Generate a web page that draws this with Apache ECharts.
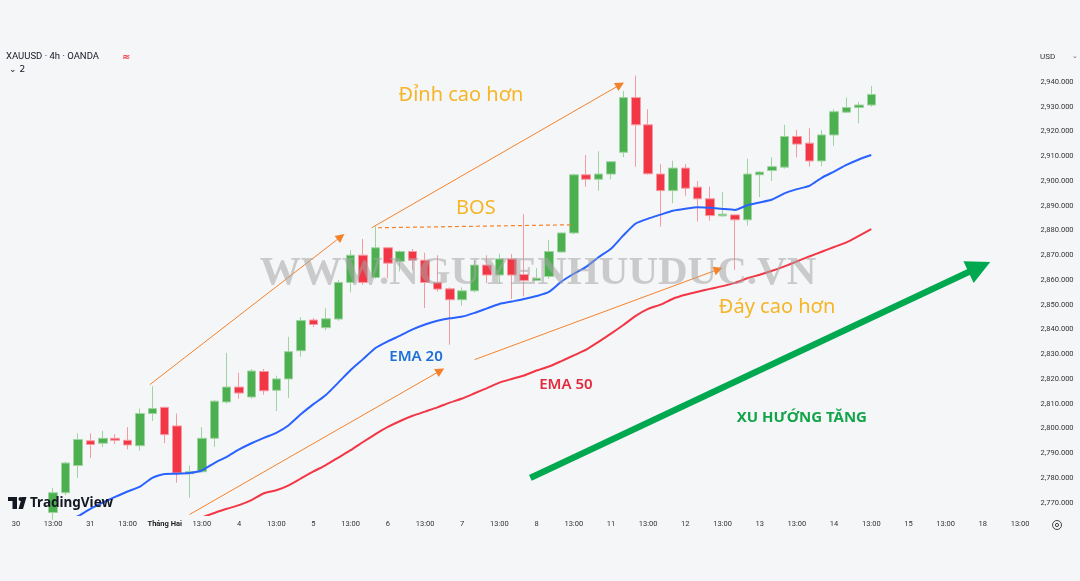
<!DOCTYPE html>
<html>
<head>
<meta charset="utf-8">
<script src="https://cdn.jsdelivr.net/npm/echarts@6.0.0/dist/echarts.min.js"></script>
<style>
html,body{margin:0;padding:0;background:#f5f6f8;}
#c{width:1080px;height:581px;}
</style>
</head>
<body>
<div id="c"></div>
<script>
// ---- tick labels of the time axis (one label every 3 candle slots, 4h candles) ----
const tickLabels = ['30','13:00','31','13:00','Tháng Hai','13:00','4','13:00','5','13:00','6','13:00','7','13:00','8','13:00','11','13:00','12','13:00','13','13:00','14','13:00','15','13:00','18','13:00'];
const slotsPerLabel = 3;
const totalSlots = 83;
const firstCandleSlot = 3;

// ---- XAUUSD 4h OHLC ----
const opens  = [2766,2774,2785,2795,2794,2796,2795.2,2793,2806,2808.5,2801,2781.7,2782.5,2796,2810.7,2816.7,2812.7,2823,2815.4,2820,2831.4,2843.8,2840.7,2844.2,2859,2870,2861,2873,2867.5,2871.5,2868,2859,2856.4,2852,2855.6,2866,2862,2868.5,2862.2,2859.8,2861.4,2871.3,2879,2902.5,2900.7,2902.8,2911.6,2933.7,2922.7,2902.8,2896.1,2905.2,2897.5,2892.8,2885.9,2886.3,2884.3,2902.5,2904.2,2905.6,2918,2915.3,2908.1,2918.6,2927.8,2929.7,2930.7];
const closes = [2774,2786,2795.5,2793.5,2796,2795.2,2793.3,2806,2808,2797.5,2782,2782.5,2796,2811,2816.7,2814.3,2823.2,2815.2,2820,2831,2843.6,2842,2844.3,2859,2870,2859,2873,2866.8,2871.5,2868,2859,2856.3,2852,2855.6,2866,2862,2868.5,2862,2859.8,2860.7,2871.5,2879,2902.5,2900.7,2902.8,2907.8,2933.7,2922.7,2902.9,2896.1,2905.2,2897.1,2892.8,2886,2886.6,2884.3,2902.8,2903.6,2905.8,2918,2914.9,2908.1,2918.6,2928,2929.7,2930.7,2935];
const lows   = [2763,2773,2780,2788,2792.5,2793.7,2791.5,2791,2803,2794,2778,2772,2782,2792.5,2810,2812,2812,2813.6,2807,2812.3,2829,2841,2839.6,2843.5,2855,2858,2860.5,2860.7,2863.4,2864,2848.6,2855.3,2833.8,2849.6,2855,2858.7,2858.7,2852.3,2853.3,2859.5,2860.5,2871,2878.5,2897.7,2896,2900.7,2909.6,2905.8,2902.5,2881.6,2891,2894,2883.6,2883.9,2885.5,2864,2882,2893.5,2900,2905,2909.5,2905.8,2906,2914.2,2927.5,2923.3,2930];
const highs  = [2776,2786.5,2798,2798,2799,2797.7,2800.5,2808,2817,2808.8,2806,2785,2800.5,2811.5,2830.5,2822.5,2824,2824,2821.3,2837,2845,2844.6,2848.6,2860,2872,2876.6,2881.6,2873.3,2872,2872.5,2871,2870,2857,2857,2868,2870,2870.6,2870.5,2886.6,2864.8,2876.2,2879.3,2903,2910.5,2912,2908,2936.4,2942.6,2929,2906.8,2908.2,2906.8,2900,2897.7,2895.5,2886.5,2909,2904,2909.6,2922.7,2920.6,2921.3,2920.5,2929,2933.7,2932,2938.4];

// ---- EMA lines (EMA 20 from slot 3, EMA 50 from slot 13) ----
const ema20 = [2759,2762,2764.5,2767.5,2770,2772.3,2774.5,2776.5,2780,2781.6,2781.7,2782,2783,2786,2788.5,2791.5,2794,2796.2,2798.2,2801.3,2805.8,2809.8,2813.5,2818.5,2823.6,2828,2832.5,2835.2,2837.5,2840,2842,2843.5,2844.5,2845.2,2846.7,2848.5,2850.3,2851.3,2852.3,2853.5,2855.2,2859.3,2862.5,2865.3,2869.2,2872.6,2878,2882.8,2884.8,2886.4,2888,2888.8,2889.4,2889.2,2888.7,2888.3,2890.2,2891.3,2892.5,2895,2896.7,2898,2901.3,2903.8,2906.5,2908.7,2910.5];
const ema50Start = 13;
const ema50 = [2760,2762,2764,2765.8,2767.5,2769,2771,2773.8,2775,2777,2779.8,2782.6,2785.2,2788.2,2791.2,2794.5,2797.7,2800.6,2803,2805.1,2806.8,2808.5,2810.4,2812.1,2814.2,2816.3,2818.5,2820,2821.4,2823.4,2825,2827.2,2829.5,2831.8,2835,2838.3,2841.8,2845.5,2848.3,2850,2852.4,2854,2855.2,2856.4,2857.5,2858.8,2860.7,2862.1,2863.7,2865.5,2867.5,2869.5,2871.4,2873.3,2875.2,2877.8,2880.5];

// ---- price axis ----
const priceMin = 2765, priceMax = 2955, priceStep = 5, labelStep = 10, lastPriceLabel = 2940;

// ---- annotations in (slot, price) coordinates ----
const orangeArrows = [
  {from:[10.8,2817.7], to:[26.5,2878.6]},
  {from:[28.7,2881.1], to:[49.05,2939.8]},
  {from:[14.0,2765.2], to:[34.55,2824.2]},
  {from:[37.0,2827.8], to:[57.0,2864.9]}
];
const bosLine = {from:[29.2,2881.1], to:[44.85,2882.3]};
const trendArrow = {from:[41.5,2780.0], to:[78.6,2867.3]};
const notes = [
  {text:'Đỉnh cao hơn', at:[35.9,2934.8], kind:'gold'},
  {text:'BOS', at:[37.1,2889.1], kind:'gold'},
  {text:'Đáy cao hơn', at:[61.4,2848.8], kind:'gold'},
  {text:'EMA 20', at:[32.27,2829.0], kind:'blue'},
  {text:'EMA 50', at:[44.37,2817.7], kind:'red'},
  {text:'XU HƯỚNG TĂNG', at:[63.4,2804.3], kind:'green'}
];

// ---------------------------------------------------------------
const chart = echarts.init(document.getElementById('c'), null, {renderer:'canvas'});
const categories = [];
for (let s = 0; s < totalSlots; s++) categories.push(Math.floor(s / slotsPerLabel) + '-' + (s % slotsPerLabel));
const candleData = opens.map((o, i) => [firstCandleSlot + i, o, closes[i], lows[i], highs[i]]);
const ema20Data = ema20.map((v, i) => [firstCandleSlot + i, v]);
const ema50Data = ema50.map((v, i) => [ema50Start + i, v]);

function fmtPrice(v){
  const s = v.toFixed(3);
  const parts = s.split('.');
  return parts[0].replace(/\B(?=(\d{3})+(?!\d))/g, ',') + '.' + parts[1];
}
const axisFont = 'Roboto, "Noto Sans", sans-serif';

chart.setOption({
  animation: false,
  backgroundColor: '#f5f6f8',
  grid: {left: 9.8, right: 41.4, top: 44.9, bottom: 66},
  xAxis: [{
    type: 'category',
    data: categories,
    boundaryGap: true,
    axisLine: {show: false},
    axisTick: {show: false},
    splitLine: {show: false},
    axisLabel: {
      interval: slotsPerLabel - 1,
      margin: 5,
      color: '#333',
      fontSize: 7.5,
      fontFamily: axisFont,
      formatter: function (v) {
        const p = v.split('-');
        if (p[1] !== '0') return '';
        const t = tickLabels[+p[0]];
        return t === 'Tháng Hai' ? '{b|' + t + '}' : t;
      },
      rich: {b: {fontWeight: 'bold', fontSize: 7.5, color: '#222', fontFamily: axisFont}}
    }
  }, {
    type: 'value', show: false, min: -0.5, max: totalSlots - 0.5
  }],
  yAxis: [{
    type: 'value',
    position: 'right',
    min: priceMin, max: priceMax, interval: priceStep,
    axisLine: {show: false}, axisTick: {show: false}, splitLine: {show: false},
    axisLabel: {
      margin: 2, align: 'left', color: '#333', fontSize: 7.5, fontFamily: axisFont,
      formatter: v => (Math.round(v) % labelStep === 0 && v <= lastPriceLabel ? fmtPrice(v) : '')
    }
  }],
  series: [{
    type: 'candlestick',
    data: candleData,
    encode: {x: 0, y: [1, 2, 3, 4]},
    barWidth: 9,
    itemStyle: {
      color: '#4caf50', color0: '#f23645',
      borderColor: '#9ed49f', borderColor0: '#f59aa2', borderWidth: 1
    },
    z: 3
  }, {
    type: 'line', data: ema20Data, showSymbol: false, smooth: 0.2,
    lineStyle: {color: '#2962ff', width: 2}, z: 4
  }, {
    type: 'line', data: ema50Data, showSymbol: false, smooth: 0.2,
    lineStyle: {color: '#f23645', width: 2}, z: 4
  }]
});

function px(p){ return chart.convertToPixel({xAxisIndex: 1, yAxisIndex: 0}, p); }
function arrowEls(a, color, lw, headLen, headHalf, dash){
  const p1 = px(a.from), p2 = px(a.to);
  const dx = p2[0]-p1[0], dy = p2[1]-p1[1], L = Math.hypot(dx, dy), ux = dx/L, uy = dy/L;
  const bx = p2[0]-ux*headLen, by = p2[1]-uy*headLen;
  const els = [{type:'line', silent:true, z:10,
    shape:{x1:p1[0], y1:p1[1], x2: headLen ? bx + ux*1 : p2[0], y2: headLen ? by + uy*1 : p2[1]},
    style:{stroke:color, lineWidth:lw, lineDash: dash || null}}];
  if (headLen) els.push({type:'polygon', silent:true, z:10,
    shape:{points:[[p2[0],p2[1]],[bx-uy*headHalf, by+ux*headHalf],[bx+uy*headHalf, by-ux*headHalf]]},
    style:{fill:color}});
  return els;
}
const noteStyle = {
  gold: {fill:'#f6b526', font:'400 20px "Noto Sans", "Open Sans", sans-serif'},
  blue: {fill:'#1c6fd6', font:'600 15px "Noto Sans", sans-serif'},
  red: {fill:'#e42a3c', font:'600 15px "Noto Sans", sans-serif'},
  green: {fill:'#13a44a', font:'700 15px "Noto Sans", sans-serif'}
};
const orange = '#f5822a';
let g = [];
// watermark (drawn over the candles, semi-transparent)
g.push({type:'text', silent:true, z:20,
  style:{text:'WWW.NGUYENHUUDUC.VN', x:538, y:273, align:'center', verticalAlign:'middle',
    fill:'rgba(165,165,165,0.55)', font:'bold 41px "Liberation Serif", "DejaVu Serif", serif'}});
orangeArrows.forEach(a => { g = g.concat(arrowEls(a, orange, 1, 9, 4.5)); });
g = g.concat(arrowEls(bosLine, orange, 1.2, 0, 0, [4, 3]));
g = g.concat(arrowEls(trendArrow, '#00a84f', 6.5, 24, 12));
notes.forEach(n => {
  const p = px(n.at);
  g.push({type:'text', silent:true, z:21, style:Object.assign({text:n.text, x:p[0], y:p[1], align:'center', verticalAlign:'middle'}, noteStyle[n.kind])});
});
// header
g.push({type:'text', silent:true, z:22, style:{text:'XAUUSD · 4h · OANDA', x:6, y:57, verticalAlign:'middle', fill:'#131722', font:'9.5px Roboto, sans-serif'}});
g.push({type:'text', silent:true, z:22, style:{text:'≈', x:122, y:57, verticalAlign:'middle', fill:'#f23645', font:'bold 10px "DejaVu Sans", sans-serif'}});
g.push({type:'text', silent:true, z:22, style:{text:'⌄ 2', x:9, y:70, verticalAlign:'middle', fill:'#131722', font:'9px "DejaVu Sans", sans-serif'}});
g.push({type:'text', silent:true, z:22, style:{text:'USD', x:1040, y:57, verticalAlign:'middle', fill:'#333', font:'8px Roboto, sans-serif'}});
g.push({type:'text', silent:true, z:22, style:{text:'⌄', x:1072, y:56, verticalAlign:'middle', fill:'#666', font:'7px "DejaVu Sans", sans-serif'}});
// TradingView logo
g.push({type:'rect', silent:true, z:22, shape:{x:8, y:497, width:9, height:4}, style:{fill:'#131722'}});
g.push({type:'rect', silent:true, z:22, shape:{x:12.5, y:497, width:4.5, height:12}, style:{fill:'#131722'}});
g.push({type:'circle', silent:true, z:22, shape:{cx:20.5, cy:499, r:2}, style:{fill:'#131722'}});
g.push({type:'polygon', silent:true, z:22, shape:{points:[[22,497],[26.5,497],[23,509],[18.5,509]]}, style:{fill:'#131722'}});
g.push({type:'text', silent:true, z:22, style:{text:'TradingView', x:30, y:503, verticalAlign:'middle', fill:'#131722', font:'bold 13.5px "Noto Sans", Roboto, sans-serif'}});
// settings gear
g.push({type:'circle', silent:true, z:22, shape:{cx:1057, cy:525, r:4.5}, style:{fill:'none', stroke:'#444', lineWidth:1}});
g.push({type:'circle', silent:true, z:22, shape:{cx:1057, cy:525, r:1.6}, style:{fill:'none', stroke:'#444', lineWidth:1}});
chart.setOption({graphic: g});
</script>
</body>
</html>
